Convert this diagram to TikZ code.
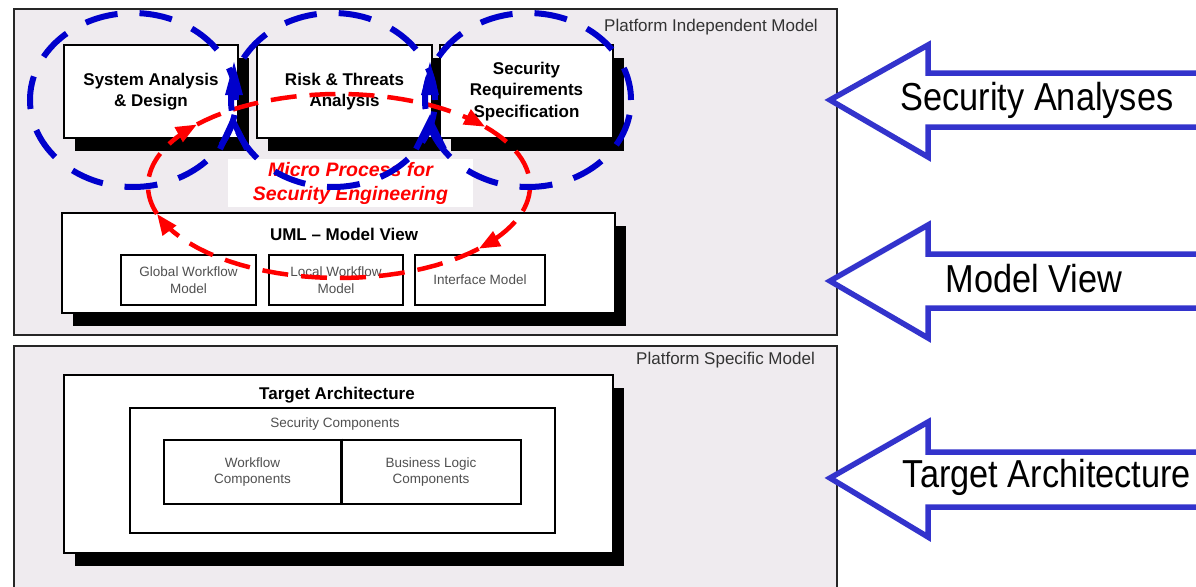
\documentclass[tikz,border=0pt]{standalone}
\usepackage{fontspec}
\setmainfont{Liberation Sans}
\newfontfamily\narrowfont[FakeStretch=0.88]{Liberation Sans}
\usetikzlibrary{arrows.meta,shadows}
\definecolor{panelbg}{RGB}{239,235,239}
\definecolor{ellblue}{RGB}{0,0,204}
\definecolor{arrblue}{RGB}{51,51,204}
\definecolor{cycred}{RGB}{255,0,0}
\definecolor{smallgray}{RGB}{80,80,80}
\begin{document}
\begin{tikzpicture}[x=1pt,y=-1pt,
  panel/.style={draw=black!85, line width=2pt, fill=panelbg, inner sep=0pt, anchor=north west},
  plabel/.style={text=black!80, font=\fontsize{17}{20}\selectfont, inner sep=0pt, anchor=east},
  bigbox/.style={draw=black, line width=1.6pt, fill=white, inner sep=0pt, align=center, font=\fontsize{17}{21.5}\selectfont\bfseries},
  shad/.style={drop shadow={shadow xshift=11pt, shadow yshift=-13pt, fill=black, opacity=1}},
  smallbox/.style={draw=black, line width=2.6pt, fill=white, inner sep=0pt, align=center, text=smallgray, font=\fontsize{13.5}{17}\selectfont},
  titletext/.style={inner sep=0pt, font=\fontsize{17}{21}\selectfont\bfseries},
  smalltext/.style={inner sep=0pt, align=center, text=smallgray, font=\fontsize{13.5}{16}\selectfont},
  redcyc/.style={draw=cycred, line width=4.5pt, dash pattern=on 26pt off 13pt, -{Triangle[length=21pt,width=16pt]}},
  bellip/.style={draw=ellblue, line width=6pt, dash pattern=on 33pt off 22pt},
  barrow/.style={draw=arrblue, line width=5.5pt, fill=white, line join=miter},
  biglabel/.style={inner sep=0pt, font=\narrowfont\fontsize{39}{44}\selectfont}
]
\clip (0,0) rectangle (1196,586);
\fill[white] (0,0) rectangle (1196,586);

% panels
\node[panel, minimum width=823pt, minimum height=326pt] (pim) at (13,8) {};
\node[panel, minimum width=823pt, minimum height=260pt] (psm) at (13,345) {};
\node[plabel] (pimlabel) at (818,27) {Platform Independent Model};
\node[plabel] (psmlabel) at (815,360) {Platform Specific Model};

% top analysis boxes
\node[bigbox, shad, minimum width=174pt, minimum height=93pt] (sys) at (151,91.5) {System Analysis\\\& Design};
\node[bigbox, shad, minimum width=175pt, minimum height=93pt] (risk) at (344.5,91.5) {Risk \& Threats\\Analysis};
\node[bigbox, shad, minimum width=173pt, minimum height=93pt] (sreq) at (526.5,91.5) {Security\\Requirements\\Specification};

% UML model view
\node[bigbox, shad, minimum width=553pt, minimum height=100pt] (uml) at (338.5,263) {};
\node[titletext] (umltitle) at (344,234) {UML -- Model View};
\node[smallbox, minimum width=135pt, minimum height=50pt] (glob) at (188.5,280) {Global Workflow\\Model};
\node[smallbox, minimum width=134pt, minimum height=50pt] (loc) at (336,280) {Local Workflow\\Model};
\node[smallbox, minimum width=130pt, minimum height=50pt] (iface) at (480,280) {Interface Model};

% micro process label
\node[fill=white, minimum width=245pt, minimum height=48pt, inner sep=0pt, align=center, text=cycred,
      font=\fontsize{19.5}{24}\selectfont\bfseries\itshape] (micro) at (350.5,183) {Micro Process for\\Security Engineering};

% red micro-process cycle
\foreach \a/\b in {197.6/138, 138/40, 40/-43, -43/-162.4} {
  \draw[redcyc] plot[domain=0:1, samples=30, variable=\s]
    ({339+191*cos((\a)+((\b)-(\a))*\s)}, {186-92*sin((\a)+((\b)-(\a))*\s)});
}

% blue analysis ellipses
\draw[bellip] (133,100) ellipse [x radius=103pt, y radius=87pt];
\draw[bellip] (333,100) ellipse [x radius=102pt, y radius=87pt];
\draw[bellip] (528,100) ellipse [x radius=103pt, y radius=87pt];
\fill[ellblue] (234,62) -- (243,95) -- (225,95) -- cycle;
\fill[ellblue] (430,62) -- (439,95) -- (421,95) -- cycle;
\draw[ellblue, line width=6pt] (220,149) -- (233,121) -- (247,149);
\draw[ellblue, line width=6pt] (416,149) -- (430,121) -- (444,149);

% platform specific model
\node[bigbox, shad, minimum width=549pt, minimum height=178pt] (target) at (338.5,464) {};
\node[titletext] (targettitle) at (337,395) {Target Architecture};
\node[draw=black, line width=2.2pt, fill=white, minimum width=425pt, minimum height=125pt, inner sep=0pt] (seccomp) at (342.5,470.5) {};
\node[smalltext] (seclabel) at (335,424) {Security Components};
\node[draw=black, line width=2.6pt, minimum width=177pt, minimum height=64pt, inner sep=0pt, smalltext] (wf) at (252.5,472) {Workflow\\Components};
\node[draw=black, line width=2.6pt, minimum width=180pt, minimum height=64pt, inner sep=0pt, smalltext] (bl) at (431,472) {Business Logic\\Components};
\draw[line width=1.4pt] (wf.north east) -- (wf.south east);

% right-hand block arrows
\draw[barrow] (830,100) -- (928,45) -- (928,73) -- (1210,73) -- (1210,127) -- (928,127) -- (928,157) -- cycle;
\draw[barrow] (830,281) -- (928,225) -- (928,254) -- (1210,254) -- (1210,308) -- (928,308) -- (928,338) -- cycle;
\draw[barrow] (830,478) -- (928,422) -- (928,452) -- (1210,452) -- (1210,507) -- (928,507) -- (928,537) -- cycle;
\node[biglabel] (lsa) at (1037,100) {Security Analyses};
\node[biglabel] (lmv) at (1034,279) {Model View};
\node[biglabel] (lta) at (1047,477) {Target Architecture};
\end{tikzpicture}
\end{document}
